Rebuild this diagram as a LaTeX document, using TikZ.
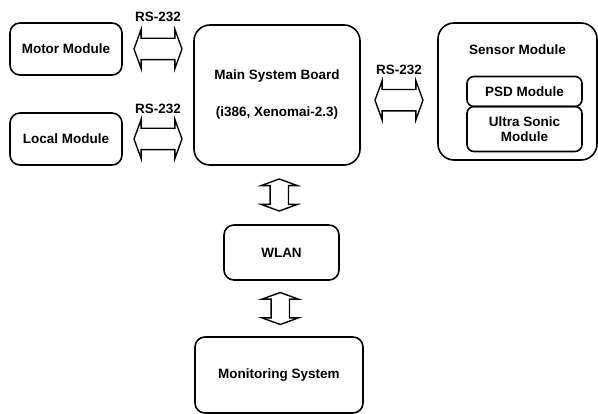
\documentclass[tikz,border=0pt]{standalone}
\usepackage{fontspec}
\setmainfont{Liberation Sans}
\usetikzlibrary{positioning,shapes.arrows,calc}
\tikzstyle{B} = [rectangle,
			draw, line width=1.6pt,
			rounded corners=10pt, align=center,
			font=\bfseries\fontsize{13.5}{15}\selectfont]
\tikzstyle{T} = [inner sep=0pt,
			font=\bfseries\fontsize{13.5}{15}\selectfont]
\tikzstyle{A} = [double arrow,
			draw, line width=1.4pt, inner sep=10pt,
			minimum height=48pt,
			double arrow head extend=9pt,
			double arrow tip angle=140]
\tikzstyle{V} = [A, shape border rotate=90,
			inner sep=8.5pt, minimum height=32pt,
			double arrow tip angle=140]

\begin{document}
\begin{tikzpicture}[x=1pt, y=1pt, on grid]

\useasboundingbox (0,0) rectangle (598,-414);

\node [B, minimum width=166pt, minimum height=140pt, rounded corners=16pt]
(main) at (277,-95)
	{Main System Board\\[22pt](i386, Xenomai-2.3)};

\node [B, above left=46pt and 211pt of main, minimum width=112pt, minimum height=52pt]
(motor)
	{Motor Module};

\node [B, below=90pt of motor, minimum width=112pt, minimum height=52pt]
(local)
	{Local Module};

\node [B, above right=3.5pt and 240.5pt of main, minimum width=159pt, minimum height=137pt, rounded corners=16pt]
(sensor)
	{};

\node [T, below=22pt of sensor.north]
(stitle)
	{Sensor Module};

\node [B, right=7pt of sensor, minimum width=115pt, minimum height=30pt, rounded corners=7pt]
(psd)
	{PSD Module};

\node [B, below=37.5pt of psd, minimum width=115pt, minimum height=45pt, rounded corners=7pt]
(sonic)
	{Ultra Sonic\\Module};

\node [B, below right=157.5pt and 4.5pt of main, minimum width=115pt, minimum height=55pt]
(wlan)
	{WLAN};

\node [B, below left=122.5pt and 2.5pt of wlan, minimum width=168pt, minimum height=76pt]
(mon)
	{Monitoring System};

% RS-232 links
\node [A] (lmotor) at ($(motor.east)!0.5!(motor.east -| main.west)$) {};
\node [A] (llocal) at ($(local.east)!0.5!(local.east -| main.west)$) {};
\node [A, yshift=-7pt] (lsensor) at ($(main.east)!0.5!(sensor.west)$) {};

\node [T, above=32pt of lmotor] {RS-232};
\node [T, above=30pt of llocal] {RS-232};
\node [T, above=30pt of lsensor] {RS-232};

% vertical links
\node [V] (lwlan) at ($(main.south)!0.5!(wlan.north)$) {};
\node [V] (lmon) at ($(wlan.south)!0.5!(mon.north)$) {};

\end{tikzpicture}
\end{document}
